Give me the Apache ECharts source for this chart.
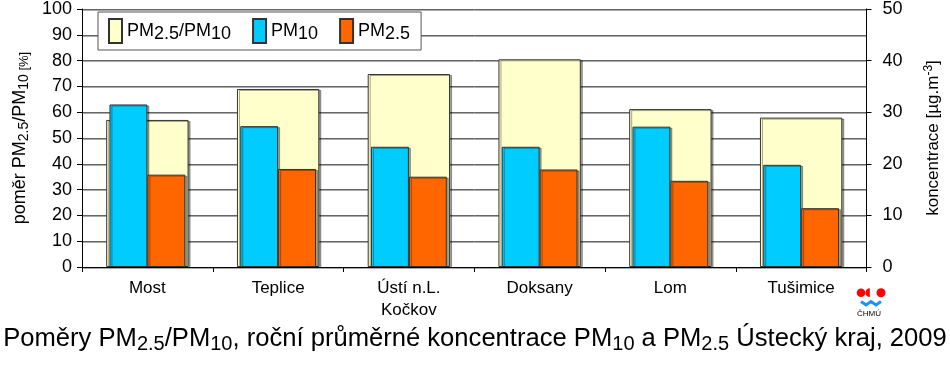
<!DOCTYPE html>
<html>
<head>
<meta charset="utf-8">
<script src="https://cdn.jsdelivr.net/npm/echarts@6/dist/echarts.min.js"></script>
<style>html,body{margin:0;padding:0;background:#fff;}#c{width:950px;height:365px;}</style>
</head>
<body>
<div id="c"></div>
<script>
const categories = ['Most', 'Teplice', 'Ústí n.L.\nKočkov', 'Doksany', 'Lom', 'Tušimice'];
const ratioValues = [57, 69, 74.8, 80.5, 61.2, 57.9];      // PM2.5/PM10 [%]
const pm10Values = [31.5, 27.3, 23.3, 23.3, 27.2, 19.8];   // µg/m3
const pm25Values = [17.9, 19.0, 17.5, 18.9, 16.7, 11.4];   // µg/m3
const leftTicks = { min: 0, max: 100, interval: 10 };
const rightTicks = { min: 0, max: 50, interval: 10 };

const FONT = '"Liberation Sans", Arial, sans-serif';
const chart = echarts.init(document.getElementById('c'), null, { renderer: 'canvas' });

const barBorder = { borderColor: '#333', borderWidth: 1, shadowColor: 'rgba(0,0,0,0.35)', shadowOffsetX: 2, shadowOffsetY: 1, shadowBlur: 0 };

chart.setOption({
  animation: false,
  backgroundColor: '#fff',
  textStyle: { fontFamily: FONT, color: '#000' },
  title: {
    text: '{n|Poměry PM}{s|2.5}{n|/PM}{s|10}{n|, roční průměrné koncentrace PM}{s|10}{n| a PM}{s|2.5}{n| Ústecký kraj, 2009}',
    left: 'center',
    top: 324,
    padding: 0,
    textStyle: {
      fontWeight: 'normal',
      rich: {
        n: { fontFamily: FONT, fontSize: 25.6, fontWeight: 'normal', lineHeight: 30, color: '#000', verticalAlign: 'middle' },
        s: { fontFamily: FONT, fontSize: 20, fontWeight: 'normal', lineHeight: 12, color: '#000', verticalAlign: 'bottom' }
      }
    }
  },
  legend: {
    left: 98,
    top: 12,
    padding: [6, 11, 6, 10],
    itemGap: 21,
    itemWidth: 13,
    itemHeight: 24,
    icon: 'rect',
    backgroundColor: '#fff',
    borderColor: '#555',
    borderWidth: 1,
    data: ['ratio', 'pm10', 'pm25'],
    formatter: function (name) {
      if (name === 'ratio') return '{n|PM}{s|2.5}{n|/PM}{s|10}';
      if (name === 'pm10') return '{n|PM}{s|10}';
      return '{n|PM}{s|2.5}';
    },
    textStyle: {
      rich: {
        n: { fontFamily: FONT, fontSize: 18, lineHeight: 24, color: '#000', verticalAlign: 'middle' },
        s: { fontFamily: FONT, fontSize: 18, lineHeight: 12, color: '#000', verticalAlign: 'bottom' }
      }
    }
  },
  grid: { left: 82, right: 81, top: 5, bottom: 98, containLabel: false },
  xAxis: [
    {
      type: 'category',
      data: categories,
      axisLine: { lineStyle: { color: '#000', width: 1 } },
      axisTick: { show: true, length: 5, lineStyle: { color: '#000' } },
      axisLabel: { fontFamily: FONT, fontSize: 17, color: '#000', margin: 10, lineHeight: 22 },
      splitLine: { show: false }
    },
    {
      type: 'category',
      data: categories,
      show: false
    }
  ],
  yAxis: [
    {
      type: 'value',
      min: leftTicks.min, max: leftTicks.max, interval: leftTicks.interval,
      name: '{n|poměr PM}{s|2.5}{n|/PM}{s|10}{q| [%]}',
      nameLocation: 'middle',
      nameRotate: 90,
      nameGap: 50,
      nameTextStyle: {
        rich: {
          n: { fontFamily: FONT, fontSize: 18, lineHeight: 22, color: '#000', verticalAlign: 'middle' },
          s: { fontFamily: FONT, fontSize: 14, lineHeight: 10, color: '#000', verticalAlign: 'bottom' },
          q: { fontFamily: FONT, fontSize: 13, lineHeight: 19, color: '#000', verticalAlign: 'bottom' }
        }
      },
      axisLine: { show: true, lineStyle: { color: '#000' } },
      axisTick: { show: true, length: 5, lineStyle: { color: '#000' } },
      axisLabel: { fontFamily: FONT, fontSize: 18, color: '#000', margin: 10 },
      splitLine: { show: true, lineStyle: { color: '#666', width: 1, shadowColor: '#aaa', shadowOffsetY: 1, shadowBlur: 0 } }
    },
    {
      type: 'value',
      position: 'right',
      min: rightTicks.min, max: rightTicks.max, interval: rightTicks.interval,
      name: '{n|koncentrace [µg.m}{p|-3}{n|]}',
      nameLocation: 'middle',
      nameRotate: 90,
      nameGap: 56,
      nameTextStyle: {
        rich: {
          n: { fontFamily: FONT, fontSize: 17, lineHeight: 22, color: '#000', verticalAlign: 'middle' },
          p: { fontFamily: FONT, fontSize: 12, lineHeight: 10, color: '#000', verticalAlign: 'top' }
        }
      },
      axisLine: { show: true, lineStyle: { color: '#000' } },
      axisTick: { show: true, length: 5, lineStyle: { color: '#000' } },
      axisLabel: { fontFamily: FONT, fontSize: 18, color: '#000', margin: 16 },
      splitLine: { show: false }
    }
  ],
  series: [
    {
      name: 'ratio', type: 'bar', xAxisIndex: 0, yAxisIndex: 0,
      data: ratioValues, barWidth: '63%', z: 2,
      itemStyle: Object.assign({ color: '#FFFFCC' }, barBorder)
    },
    {
      name: 'pm10', type: 'bar', xAxisIndex: 1, yAxisIndex: 1,
      data: pm10Values, barWidth: '29%', barGap: '0%', z: 3,
      itemStyle: Object.assign({ color: '#00CCFF' }, barBorder)
    },
    {
      name: 'pm25', type: 'bar', xAxisIndex: 1, yAxisIndex: 1,
      data: pm25Values, barWidth: '29%', barGap: '0%', z: 3,
      itemStyle: Object.assign({ color: '#FF6600' }, barBorder)
    }
  ],
  graphic: [
    { type: 'circle', shape: { cx: 861, cy: 292.7, r: 4.3 }, style: { fill: '#ff0000' }, silent: true },
    { type: 'sector', shape: { cx: 869.8, cy: 292.7, r: 4.4, startAngle: Math.PI / 2, endAngle: Math.PI * 1.5 }, style: { fill: '#ff0000' }, silent: true },
    { type: 'circle', shape: { cx: 881, cy: 292.7, r: 4.5 }, style: { fill: '#ff0000' }, silent: true },
    { type: 'polyline', shape: { points: [[861, 301.5], [866, 305], [871, 301.5], [876, 305], [881, 301.5]] }, style: { stroke: '#1e90ff', lineWidth: 3, fill: null }, silent: true },
    { type: 'text', x: 869, y: 310, style: { text: 'ČHMÚ', fontSize: 8, fontFamily: FONT, fill: '#000', align: 'center', verticalAlign: 'top' }, silent: true }
  ]
});
</script>
</body>
</html>
